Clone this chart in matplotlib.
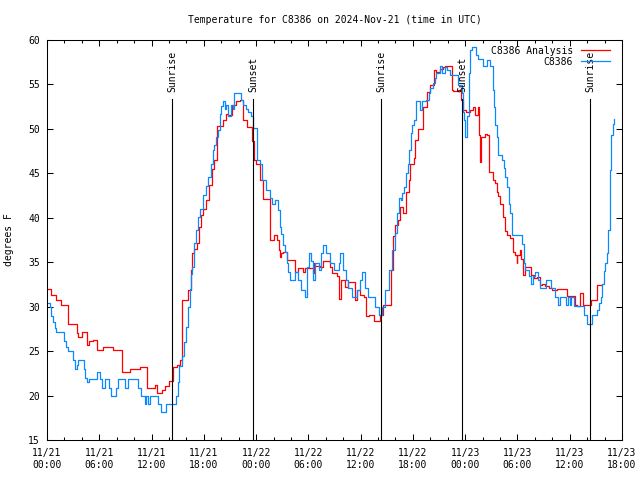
import matplotlib
matplotlib.use("Agg")
import matplotlib.pyplot as plt
import matplotlib.dates as mdates
import numpy as np

# hours since 2024-11-21 00:00 UTC, temperature in F (step data)
analysis_h = [0.0, 0.5, 1.0, 1.6, 2.45, 3.4, 3.6, 4.0, 4.55, 4.85, 5.3, 5.7, 6.45, 7.6, 8.6, 9.5,
              10.7, 11.45, 12.4, 12.6, 13.2, 13.6, 13.95, 14.5, 14.9, 15.3, 15.5, 16.2, 16.5, 16.7,
              16.9, 17.2, 17.5, 17.7, 17.95, 18.3, 18.6, 18.9, 19.2, 19.55, 20.25, 20.6, 20.8, 21.2,
              21.7, 22.15, 22.55, 23.0, 23.5, 23.75, 24.0, 24.45, 24.75, 25.6, 26.0, 26.4, 26.6,
              26.7, 26.9, 27.1, 27.5, 28.5, 28.85, 29.4, 29.6, 30.5, 30.65, 30.8, 31.3, 31.7, 32.5,
              32.7, 33.25, 33.55, 33.7, 34.2, 34.6, 35.4, 35.55, 35.9, 36.4, 36.6, 37.0, 37.55,
              38.25, 38.6, 39.5, 39.7, 40.0, 40.3, 40.5, 40.9, 41.2, 41.5, 41.7, 42.1, 42.25, 42.6,
              43.2, 43.6, 44.0, 44.4, 44.6, 45.1, 45.5, 45.7, 46.5, 46.65, 47.2, 47.5, 47.8, 48.1,
              48.6, 48.9, 49.1, 49.25, 49.5, 49.6, 49.7, 49.8, 50.3, 50.5, 50.7, 51.2, 51.4, 51.6,
              51.8, 52.0, 52.3, 52.6, 52.8, 53.2, 53.5, 53.7, 53.9, 54.0, 54.3, 54.4, 54.6, 54.9,
              55.5, 55.9, 56.2, 56.6, 56.8, 57.2, 57.6, 58.0, 58.5, 59.7, 60.6, 60.8, 61.2, 61.55,
              62.4, 62.65, 63.1, 63.6]
analysis_t = [32.0, 31.3, 30.8, 30.2, 28.1, 27.0, 26.6, 27.1, 25.7, 26.1, 26.3, 25.1, 25.5, 25.1, 22.7, 23.0,
              23.2, 20.8, 21.2, 20.3, 20.6, 21.1, 21.6, 23.2, 23.4, 24.0, 30.8, 31.9, 34.1, 36.0,
              36.5, 37.2, 39.0, 40.3, 41.0, 42.0, 43.7, 45.5, 46.5, 50.3, 51.0, 51.7, 51.6, 52.7,
              53.1, 53.3, 51.0, 50.25, 48.6, 46.5, 46.0, 44.25, 42.1, 37.5, 38.1, 37.5, 36.4,
              35.6, 36.0, 36.2, 35.25, 33.9, 34.3, 33.9, 34.3, 33.75, 34.9, 34.6, 34.5, 35.1, 34.5,
              33.75, 33.4, 30.9, 33.0, 32.25, 32.8, 30.75, 31.9, 31.3, 31.1, 29.0, 29.1, 28.35,
              29.1, 30.2, 34.1, 37.9, 39.2, 39.75, 41.25, 40.5, 42.9, 44.25, 46.1, 46.7, 48.75, 49.95,
              52.5, 54.2, 54.9, 56.6, 56.4, 56.7, 57.0, 57.1, 54.4, 54.3, 54.4, 53.25, 52.1, 51.9,
              52.1, 52.5, 51.6, 51.6, 52.5, 49.3, 46.3, 49.1, 49.4, 49.3, 45.1, 44.2, 43.9, 42.9,
              42.4, 41.5, 40.1, 38.5, 38.1, 37.7, 36.2, 35.8, 34.9, 35.8, 36.4, 35.4, 33.6, 34.5,
              33.6, 33.2, 33.3, 32.45, 32.6, 32.3, 32.1, 31.9, 32.0, 31.2, 30.2, 30.1, 31.5, 30.2,
              30.7, 30.8, 32.45, 32.45]

obs_h = [0.0, 0.3, 0.5, 0.7, 0.9, 1.0, 1.9, 2.2, 2.4, 3.0, 3.2, 3.4, 3.6, 4.2, 4.4, 4.6, 4.8, 5.7,
         6.1, 6.3, 6.7, 7.1, 7.3, 7.9, 8.2, 9.0, 9.3, 10.4, 10.8, 11.2, 11.4, 11.6, 11.8, 12.7,
         13.1, 13.7, 14.8, 15.0, 15.2, 15.5, 15.7, 15.9, 16.2, 16.4, 16.5, 16.6, 16.9, 17.1, 17.3,
         17.6, 17.9, 18.2, 18.5, 18.8, 19.0, 19.2, 19.4, 19.6, 19.8, 20.0, 20.2, 20.4, 20.6, 20.8,
         21.1, 21.3, 21.5, 22.3, 22.5, 22.8, 23.1, 23.4, 23.7, 24.1, 24.5, 24.7, 25.1, 25.6, 25.8,
         26.2, 26.5, 26.7, 26.9, 27.1, 27.3, 27.5, 27.7, 27.9, 28.5, 28.85, 29.2, 29.6, 29.9, 30.1,
         30.3, 30.5, 30.8, 31.2, 31.5, 31.7, 32.0, 32.5, 32.9, 33.5, 33.6, 34.0, 34.3, 34.6, 35.0,
         35.55, 35.9, 36.2, 36.5, 36.9, 37.6, 38.1, 38.5, 38.8, 39.2, 39.6, 40.0, 40.2, 40.4, 40.6,
         40.8, 41.0, 41.2, 41.4, 41.6, 41.8, 41.9, 42.1, 42.3, 42.4, 42.8, 43.0, 43.5, 43.8, 44.0,
         44.3, 44.5, 44.7, 45.1, 45.3, 45.7, 45.9, 46.3, 47.2, 47.6, 47.8, 47.9, 48.0, 48.2, 48.4,
         48.6, 48.75, 49.25, 49.5, 50.0, 50.55, 50.8, 51.2, 51.3, 51.4, 51.6, 51.8, 52.2, 52.4,
         52.6, 52.8, 53.0, 53.2, 53.4, 54.5, 54.7, 54.9, 55.3, 55.6, 55.8, 56.0, 56.4, 56.6, 57.3,
         57.9, 58.3, 58.6, 58.9, 59.6, 59.8, 60.0, 60.2, 60.5, 61.6, 62.0, 62.5, 62.6, 63.1, 63.4,
         63.6, 63.7, 63.9, 64.1, 64.3, 64.45, 64.6, 64.75, 64.95, 65.1]
obs_t = [30.4, 30.0, 29.0, 28.3, 27.6, 27.1, 26.1, 25.5, 25.0, 24.0, 23.0, 23.4, 24.0, 23.0, 22.0, 21.5, 21.9, 22.7,
         21.9, 20.9, 21.9, 20.9, 20.0, 20.9, 21.9, 20.9, 21.9, 20.9, 20.0, 19.0, 20.0, 19.0, 20.0, 19.0,
         18.1, 19.0, 20.0, 21.5, 23.3, 24.5, 26.0, 27.75, 30.0, 32.0, 33.7, 34.5, 37.2, 38.6, 40.1,
         41.0, 42.6, 43.6, 44.6, 46.1, 47.6, 48.2, 49.1, 49.9, 51.7, 52.6, 53.1, 52.2, 52.7, 51.5,
         52.7, 52.2, 54.0, 53.3, 52.7, 52.2, 51.9, 51.4, 50.1, 46.5, 46.0, 44.25, 43.1, 42.2, 41.5,
         42.0, 40.9, 39.0, 38.2, 36.9, 36.2, 34.9, 33.9, 33.0, 33.9, 33.0, 31.9, 31.05, 34.5, 36.0,
         35.1, 33.0, 34.9, 34.1, 36.0, 36.9, 36.0, 34.9, 34.1, 34.9, 36.0, 34.1, 33.0, 32.1, 31.1,
         31.9, 33.0, 33.9, 32.1, 31.1, 30.0, 29.1, 30.0, 31.9, 34.1, 36.4, 38.25, 40.5, 42.2, 42.0,
         42.75, 43.5, 45.0, 46.1, 47.6, 49.5, 50.4, 51.0, 52.1, 53.1, 52.1, 53.1, 53.3, 54.0, 54.6,
         55.2, 55.7, 56.25, 57.1, 56.25, 57.0, 56.6, 56.1, 54.9, 54.0, 51.9, 51.0, 49.1, 51.4, 56.25,
         58.9, 59.2, 58.3, 57.9, 57.1, 57.75, 57.1, 54.4, 52.5, 50.4, 49.1, 47.1, 46.5, 45.6,
         44.6, 43.5, 41.6, 40.5, 38.1, 37.1, 34.9, 34.1, 33.4, 32.5, 33.4, 33.9, 33.0, 32.1, 33.0,
         32.1, 31.1, 30.2, 31.1, 30.2, 31.1, 30.2, 31.1, 30.1, 29.1, 28.1, 28.5, 29.1, 29.6, 30.4,
         31.1, 32.6, 34.0, 34.9, 36.0, 38.6, 45.4, 49.3, 50.5, 51.1]

sun_h = [14.35, 23.65, 38.35, 47.65, 62.35]
sun_labels = ["Sunrise", "Sunset", "Sunrise", "Sunset", "Sunrise"]

t0 = np.datetime64("2024-11-21T00:00")


def to_time(hours):
    return t0 + (np.array(hours) * 60).round().astype("timedelta64[m]")


plt.rcParams['font.family'] = ['DejaVu Sans Mono']
plt.rcParams['font.size'] = 7

fig = plt.figure(figsize=(6.4, 4.8), dpi=100)
ax = fig.add_axes([47 / 640, 40 / 480, 575 / 640, 400 / 480])

ax.plot(to_time(analysis_h), analysis_t, drawstyle='steps-post', color='#ff0000', lw=0.9, label='C8386 Analysis')
ax.plot(to_time(obs_h), obs_t, drawstyle='steps-post', color='#0a88ff', lw=0.9, label='C8386')

for h, lab in zip(sun_h, sun_labels):
    ts = to_time([h])[0]
    ax.axvline(ts, ymin=0, ymax=0.8525, color='black', lw=0.8)
    ax.text(ts, 0.87, lab, transform=ax.get_xaxis_transform(), rotation=90,
            ha='center', va='bottom', fontsize=7)

ax.set_xlim(to_time([0])[0], to_time([66])[0])
ax.set_ylim(15, 60)
ax.set_yticks(np.arange(15, 61, 5))
ax.xaxis.set_major_locator(mdates.HourLocator(byhour=[0, 6, 12, 18]))
ax.xaxis.set_minor_locator(mdates.HourLocator(interval=2))
ax.xaxis.set_major_formatter(mdates.DateFormatter('%m/%d\n%H:%M'))

ax.tick_params(which='both', direction='in', top=True, right=True, width=0.75)
ax.tick_params(which='major', length=4)
ax.tick_params(which='minor', length=2)
ax.tick_params(axis='x', pad=6)
ax.tick_params(axis='y', pad=5)
for s in ax.spines.values():
    s.set_linewidth(0.75)

ax.set_title('Temperature for C8386 on 2024-Nov-21 (time in UTC)', fontsize=7, pad=12)
ax.set_ylabel('degrees F')
ax.yaxis.set_label_coords(-0.057, 0.5)

ax.legend(loc='upper right', bbox_to_anchor=(1 - 8 / 575, 1 - 2 / 400), frameon=False, markerfirst=False,
          fontsize=7, handlelength=3.0, handletextpad=0.8, borderaxespad=0, borderpad=0.4,
          labelspacing=0.1)

plt.savefig('out.png', dpi=100)
